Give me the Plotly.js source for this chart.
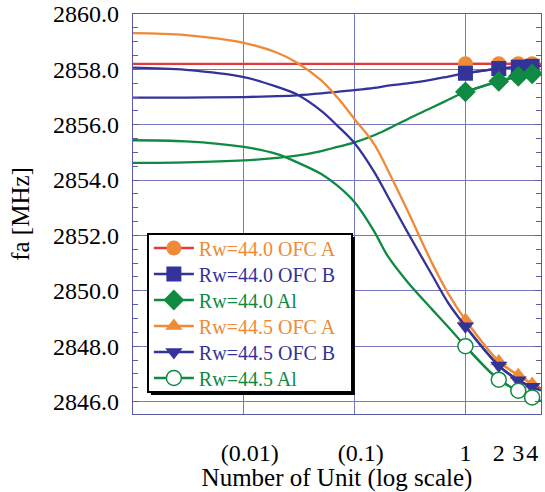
<!DOCTYPE html>
<html>
<head>
<meta charset="utf-8">
<script src="https://cdn.plot.ly/plotly-3.0.1.min.js"></script>
<style>
  html, body { margin: 0; padding: 0; background: #fff; }
  #chart { width: 545px; height: 492px; }
</style>
</head>
<body>
<div id="chart"></div>
<script>
// Number of units (log scale)
const units = [0.001, 0.003, 0.01, 0.02, 0.03, 0.05, 0.07, 0.1, 0.15, 0.2, 0.3, 0.5, 0.7, 1, 2, 3, 4, 4.8];
// fa [MHz] for each series
const rw440_ofcA = [2858.2, 2858.2, 2858.2, 2858.2, 2858.2, 2858.2, 2858.2, 2858.2, 2858.2, 2858.2, 2858.2, 2858.2, 2858.2, 2858.2, 2858.2, 2858.2, 2858.2, 2858.2];
const rw440_ofcB = [2856.98, 2856.98, 2857.0, 2857.03, 2857.06, 2857.13, 2857.19, 2857.25, 2857.33, 2857.41, 2857.49, 2857.63, 2857.74, 2857.86, 2858.03, 2858.08, 2858.11, 2858.12];
const rw440_al   = [2854.62, 2854.64, 2854.71, 2854.8, 2854.88, 2855.05, 2855.2, 2855.36, 2855.62, 2855.85, 2856.2, 2856.62, 2856.9, 2857.19, 2857.57, 2857.75, 2857.84, 2857.9];
const rw445_ofcA = [2859.31, 2859.24, 2858.96, 2858.6, 2858.25, 2857.6, 2856.98, 2856.2, 2855.3, 2854.35, 2852.9, 2851.0, 2849.9, 2848.95, 2847.45, 2846.95, 2846.63, 2846.45];
const rw445_ofcB = [2858.06, 2857.98, 2857.72, 2857.37, 2857.1, 2856.5, 2855.96, 2855.33, 2854.3, 2853.4, 2852.12, 2850.57, 2849.56, 2848.72, 2847.3, 2846.77, 2846.53, 2846.4];
const rw445_al   = [2855.44, 2855.4, 2855.2, 2854.94, 2854.65, 2854.22, 2853.8, 2853.2, 2852.15, 2851.24, 2850.32, 2849.33, 2848.69, 2848.0, 2846.79, 2846.39, 2846.15, 2846.02];

const seriesNames = ['Rw=44.0 OFC A', 'Rw=44.0 OFC B', 'Rw=44.0 Al', 'Rw=44.5 OFC A', 'Rw=44.5 OFC B', 'Rw=44.5 Al'];
const tickVals = [0.01, 0.1, 1, 2, 3, 4];
const tickText = ['\u2002(0.01)', '\u2002(0.1)', '1', '2', '3', '4'];
const gridVals = [0.01, 0.1, 1];

const ORANGE = '#EE8A38', BLUE = '#333399', GREEN = '#0F8A42', RED = '#E0393E';
const styles = [
  {line: RED,    text: ORANGE, symbol: 'circle',        fill: ORANGE, mline: ORANGE, mw: 0},
  {line: BLUE,   text: BLUE,   symbol: 'square',        fill: BLUE,   mline: BLUE,   mw: 0},
  {line: GREEN,  text: GREEN,  symbol: 'diamond',       fill: GREEN,  mline: GREEN,  mw: 0},
  {line: ORANGE, text: ORANGE, symbol: 'triangle-up',   fill: ORANGE, mline: ORANGE, mw: 0},
  {line: BLUE,   text: BLUE,   symbol: 'triangle-down', fill: BLUE,   mline: BLUE,   mw: 0},
  {line: GREEN,  text: GREEN,  symbol: 'circle',        fill: '#ffffff', mline: GREEN, mw: 1.5}
];
const sizes = [15, 15, 16, 15, 15, 15];
const allSeries = [rw440_ofcA, rw440_ofcB, rw440_al, rw445_ofcA, rw445_ofcB, rw445_al];

const data = [];
allSeries.forEach((ys, i) => {
  const st = styles[i];
  data.push({
    x: units, y: ys, type: 'scatter', mode: 'lines',
    line: {color: st.line, width: 2.3, shape: 'spline', smoothing: 1},
    showlegend: false, hoverinfo: 'skip'
  });
  const mx = [], my = [];
  units.forEach((u, k) => { if (u >= 1 && u <= 4) { mx.push(u); my.push(ys[k]); } });
  data.push({
    x: mx, y: my, type: 'scatter', mode: 'lines+markers',
    name: '<span style="color:' + st.text + '">' + seriesNames[i] + '</span>',
    line: {color: st.line, width: 2.3, shape: 'spline', smoothing: 1},
    marker: {symbol: st.symbol, size: sizes[i], color: st.fill, line: {color: st.mline, width: st.mw}}
  });
});

const GRID = '#7878c0', AXIS = '#5a5aaa';
const FONT = 'Liberation Serif';
const layout = {
  width: 545, height: 492,
  margin: {l: 133, r: 4, t: 14, b: 78},
  paper_bgcolor: '#ffffff', plot_bgcolor: '#ffffff',
  font: {family: FONT, color: '#000000'},
  showlegend: true,
  xaxis: {
    type: 'log', range: [-3, 0.682],
    tickmode: 'array', tickvals: tickVals, ticktext: tickText, tickangle: 0,
    showgrid: false, ticks: '', zeroline: false,
    showline: true, linecolor: AXIS, linewidth: 1.2, mirror: true,
    tickfont: {family: FONT, size: 24, color: '#000'},
    ticklabelstandoff: 17,
    minor: {tickmode: 'array', tickvals: gridVals, showgrid: true, gridcolor: GRID, gridwidth: 1, ticks: ''},
    title: {text: 'Number of Unit (log scale)', font: {family: FONT, size: 25, color: '#000'}, standoff: 0},
    automargin: false
  },
  yaxis: {
    range: [2845.55, 2860], tick0: 2846, dtick: 2, tickformat: '.1f',
    showgrid: true, gridcolor: GRID, gridwidth: 1, zeroline: false,
    ticks: 'inside', ticklen: 6, tickcolor: AXIS, tickwidth: 1,
    showline: true, linecolor: AXIS, linewidth: 1.2, mirror: 'allticks',
    minor: {dtick: 0.5, ticks: 'inside', ticklen: 5, tickcolor: AXIS, tickwidth: 1, showgrid: false},
    tickfont: {family: FONT, size: 24, color: '#000'},
    ticklabelstandoff: 8,
    title: {text: 'fa [MHz]', font: {family: FONT, size: 25, color: '#000'}, standoff: 16},
    automargin: false
  },
  legend: {
    x: 0.034, y: 0.4525, xanchor: 'left', yanchor: 'top',
    bgcolor: '#ffffff', bordercolor: '#000000', borderwidth: 2,
    font: {family: FONT, size: 20},
    itemwidth: 40, tracegroupgap: 0
  }
};

Plotly.newPlot('chart', data, layout, {displayModeBar: false, staticPlot: true}).then(gd => {
  const leg = gd.querySelector('g.legend');
  if (!leg) return;
  const bg = leg.querySelector('rect.bg');
  // tighten legend row spacing and padding to match the reference
  const items = Array.from(leg.querySelectorAll('g.traces'));
  const pos = items.map(el => {
    const m = /translate\(\s*([-\d.e]+)[ ,]+([-\d.e]+)\s*\)/.exec(el.getAttribute('transform') || '');
    return m ? [parseFloat(m[1]), parseFloat(m[2])] : null;
  });
  const STEP = 26;
  const PADCUT = 5;
  const WIDEN = 10;
  if (items.length > 1 && pos.every(p => p)) {
    const oldStep = pos[1][1] - pos[0][1];
    const shrink = (oldStep - STEP);
    items.forEach((el, i) => {
      el.setAttribute('transform', 'translate(' + pos[i][0] + ',' + (pos[0][1] - shrink / 2 - PADCUT + i * STEP) + ')');
    });
    const total = shrink * items.length + 2 * PADCUT;
    if (bg) {
      const h = parseFloat(bg.getAttribute('height'));
      bg.setAttribute('height', h - total);
      const w = parseFloat(bg.getAttribute('width'));
      bg.setAttribute('width', w + WIDEN);
    }
    const clip = gd.querySelector('clipPath[id*="legend"] rect');
    if (clip) {
      const ch = parseFloat(clip.getAttribute('height'));
      clip.setAttribute('height', ch - total + 2 * PADCUT);
      const cw = parseFloat(clip.getAttribute('width'));
      clip.setAttribute('width', cw + WIDEN);
    }
  }
  if (bg) {
    const bb = bg.getBBox();
    const sh = document.createElementNS('http://www.w3.org/2000/svg', 'rect');
    sh.setAttribute('x', bb.x + 3);
    sh.setAttribute('y', bb.y + 3);
    sh.setAttribute('width', bb.width);
    sh.setAttribute('height', bb.height);
    sh.setAttribute('fill', '#000');
    leg.insertBefore(sh, bg);
  }
});
</script>
</body>
</html>
